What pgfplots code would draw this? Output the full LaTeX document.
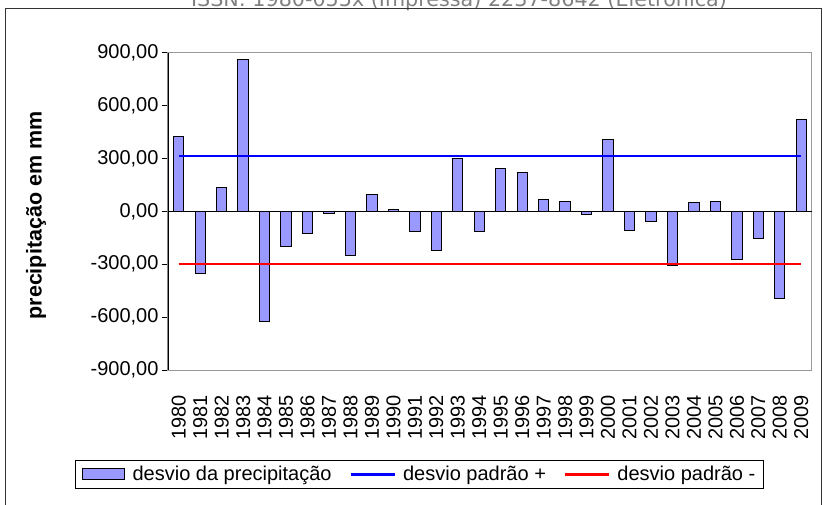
\documentclass[border=0pt]{standalone}
\usepackage{pgfplots}
\pgfplotsset{compat=1.18}
\usepackage{fontspec}
\setmainfont{Liberation Sans}
\newfontfamily\hdrfont{DejaVu Sans}
\definecolor{barfill}{RGB}{153,153,255}
\definecolor{hdrgray}{RGB}{128,128,128}
\begin{document}
\begin{tikzpicture}[x=1pt,y=1pt]
\useasboundingbox (0,0) rectangle (823,504);
\node[anchor=base, font=\hdrfont\fontsize{20.7}{24}\selectfont, text=hdrgray, inner sep=0pt] at (459,497.5) {ISSN: 1980-055x (Impressa) 2237-8642 (Eletrônica)};
\draw[black!80, line width=1pt] (5.5,-5) rectangle (821.5,495.7);
\begin{axis}[
  at={(168pt,134pt)}, anchor=south west,
  scale only axis, width=644pt, height=317.3pt,
  xmin=0.5, xmax=30.5, ymin=-900, ymax=900,
  ytick={-900,-600,-300,0,300,600,900},
  xtick={1,...,30},
  xticklabels={1980,1981,1982,1983,1984,1985,1986,1987,1988,1989,1990,1991,1992,1993,1994,1995,1996,1997,1998,1999,2000,2001,2002,2003,2004,2005,2006,2007,2008,2009},
  /pgf/number format/fixed, /pgf/number format/fixed zerofill,
  /pgf/number format/precision=2, /pgf/number format/use comma,
  /pgf/number format/1000 sep={}, /pgf/number format/assume math mode=true,
  tick label style={font=\fontsize{20}{24}\selectfont},
  xticklabel style={yshift=-19pt, rotate=90, anchor=east, inner sep=0pt},
  ytick pos=left, tick align=outside, major tick length=6pt,
  ytick style={black, line width=1pt},
  xtick style={draw=none},
  axis line style={draw=gray!80, line width=1pt},
  ylabel={precipitação em mm},
  ylabel style={font=\bfseries\fontsize{21.5}{24}\selectfont, at={(axis description cs:-0.205,0.487)}, anchor=center},
  legend columns=3,
  legend cell align=left,
  legend style={at={(axis description cs:0.3905,-0.3293)}, anchor=center, draw=black, line width=1pt,
    font=\fontsize{20}{24}\selectfont, inner xsep=6pt, inner ysep=4pt,
    /tikz/every even column/.append style={column sep=16pt}},
]
\addplot[ybar, bar width=10.3pt, fill=barfill, draw=black, line width=1pt,
  legend image code/.code={\draw[fill=barfill, draw=black, line width=1pt] (0pt,-5.5pt) rectangle (42pt,5.5pt); \path (48pt,0pt);}]
  coordinates {
  (1,424) (2,-354) (3,136) (4,863) (5,-623) (6,-200) (7,-124) (8,-10) (9,-249) (10,98)
  (11,10) (12,-113) (13,-221) (14,298) (15,-113) (16,241) (17,221) (18,68) (19,58) (20,-17)
  (21,406) (22,-106) (23,-57) (24,-309) (25,49) (26,58) (27,-275) (28,-153) (29,-496) (30,519)};
\addlegendentry{desvio da precipitação}
\addplot[blue, line width=2.5pt,
  legend image code/.code={\draw[blue, line width=2.5pt] (0pt,0pt) -- (44pt,0pt); \path (49pt,0pt);}]
  coordinates {(1,313) (30,313)};
\addlegendentry{desvio padrão +}
\addplot[red, line width=2.5pt,
  legend image code/.code={\draw[red, line width=2.5pt] (0pt,0pt) -- (44pt,0pt); \path (49pt,0pt);}]
  coordinates {(1,-300) (30,-300)};
\addlegendentry{desvio padrão -}
\draw[black, line width=1pt] (axis cs:0.5,0) -- (axis cs:30.5,0);
\draw[black, line width=1.3pt] (rel axis cs:0,0) -- (rel axis cs:0,1);
\end{axis}
\end{tikzpicture}
\end{document}
